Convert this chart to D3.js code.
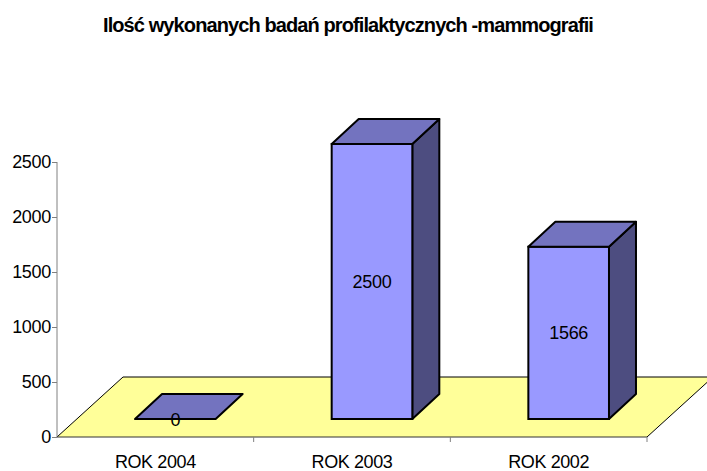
<!DOCTYPE html>
<html>
<head>
<meta charset="utf-8">
<script src="https://cdn.jsdelivr.net/npm/d3@7"></script>
<style>
  body { margin: 0; background: #fff; }
  text { font-family: "Liberation Sans", Arial, sans-serif; }
</style>
</head>
<body>
<script>
// chart data
var categories = ['ROK 2004', 'ROK 2003', 'ROK 2002'];
var values = [0, 2500, 1566];
var yTicks = [0, 500, 1000, 1500, 2000, 2500];
var title = 'Ilość wykonanych badań profilaktycznych -mammografii';

var W = 707, H = 471;
var left = 57, right = 647, base = 437;

// 3d offsets
var floorDx = 66, floorDy = -60;
var barShiftX = 20, barShiftY = -18;
var barDx = 27, barDy = -25;

var x = d3.scaleBand().domain(categories).range([left, right]);
var y = d3.scaleLinear().domain([0, 2500]).range([base, 162]);
var barW = x.bandwidth() * 0.41;

var svg = d3.select('body').append('svg')
    .attr('width', W)
    .attr('height', H);

// title
svg.append('text')
    .attr('x', 348)
    .attr('y', 32)
    .attr('text-anchor', 'middle')
    .attr('font-size', 20)
    .attr('font-weight', 'bold')
    .attr('letter-spacing', -0.9)
    .text(title);

// floor
var floorPts = [[left, base], [right, base], [right + floorDx, base + floorDy], [left + floorDx, base + floorDy]];
svg.append('path')
    .attr('d', 'M' + floorPts.join('L') + 'Z')
    .attr('fill', '#ffff99')
    .attr('stroke', 'none');
svg.append('path')
    .attr('d', 'M' + [floorPts[0], floorPts[3], floorPts[2], floorPts[1]].join('L'))
    .attr('fill', 'none')
    .attr('stroke', '#000')
    .attr('stroke-width', 1);

// y axis
var yAxis = svg.append('g')
    .attr('transform', 'translate(' + left + ',0)')
    .call(d3.axisLeft(y).tickValues(yTicks).tickSize(5).tickPadding(1).tickFormat(d3.format('d')));
yAxis.select('.domain').attr('stroke', '#808080').attr('d', 'M0,' + y(2500) + 'V' + base);
yAxis.selectAll('.tick line').attr('stroke', '#808080');
yAxis.selectAll('.tick text')
    .attr('font-size', 18)
    .attr('letter-spacing', -0.3)
    .attr('fill', '#000')
    .attr('font-family', '"Liberation Sans", Arial, sans-serif');

// x axis line + ticks at category boundaries
svg.append('line')
    .attr('x1', left).attr('x2', right)
    .attr('y1', base).attr('y2', base)
    .attr('stroke', '#333');
svg.selectAll('.xtick')
    .data(categories)
    .enter()
    .append('line')
    .attr('x1', function (d) { return x(d) + x.bandwidth(); })
    .attr('x2', function (d) { return x(d) + x.bandwidth(); })
    .attr('y1', base)
    .attr('y2', base + 5)
    .attr('stroke', '#808080');
svg.selectAll('.xlabel')
    .data(categories)
    .enter()
    .append('text')
    .attr('x', function (d) { return x(d) + x.bandwidth() / 2; })
    .attr('y', 468)
    .attr('text-anchor', 'middle')
    .attr('font-size', 18)
    .attr('letter-spacing', -0.4)
    .text(function (d) { return d; });

// bars
var bars = svg.selectAll('.bar')
    .data(values)
    .enter()
    .append('g')
    .attr('class', 'bar');

function bx(i) { return x(categories[i]) + x.bandwidth() / 2 - barW / 2 + barShiftX; }
function by0() { return base + barShiftY; }
function by1(d) { return y(d) + barShiftY; }

function poly(pts) { return 'M' + pts.join('L') + 'Z'; }

bars.each(function (d, i) {
    var g = d3.select(this);
    var x0 = bx(i), x1 = x0 + barW, yb = by0(), yt = by1(d);
    if (d > 0) {
        // side
        g.append('path')
            .attr('d', poly([[x1, yb], [x1 + barDx, yb + barDy], [x1 + barDx, yt + barDy], [x1, yt]]))
            .attr('fill', '#4d4d80')
            .attr('stroke', '#000')
            .attr('stroke-width', 2)
            .attr('stroke-linejoin', 'round');
        // front
        g.append('rect')
            .attr('x', x0).attr('y', yt)
            .attr('width', barW).attr('height', yb - yt)
            .attr('fill', '#9999ff')
            .attr('stroke', '#000')
            .attr('stroke-width', 2);
    }
    // top
    g.append('path')
        .attr('d', poly([[x0, yt], [x1, yt], [x1 + barDx, yt + barDy], [x0 + barDx, yt + barDy]]))
        .attr('fill', '#7373bf')
        .attr('stroke', '#000')
        .attr('stroke-width', 2)
        .attr('stroke-linejoin', 'round');
    g.append('text')
        .attr('x', x0 + barW / 2)
        .attr('y', (yb + yt) / 2 + 6.5)
        .attr('text-anchor', 'middle')
        .attr('font-size', 18)
        .attr('letter-spacing', -0.3)
        .text(d);
});
</script>
</body>
</html>
